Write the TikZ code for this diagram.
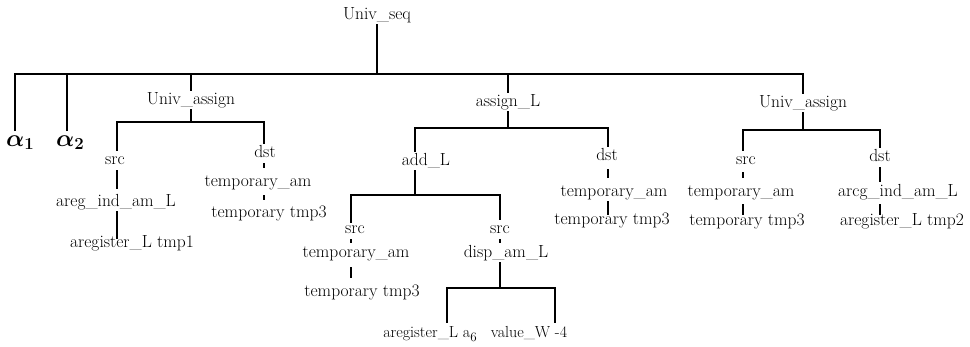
\RequirePackage{fix-cm}
\documentclass[tikz,border=0pt]{standalone}
\begin{document}
\begin{tikzpicture}[x=1pt,y=-1pt,
  lbl/.style={font=\fontsize{17.5}{20}\selectfont, inner sep=1pt, text height=12pt, text depth=4pt},
  alphalbl/.style={font=\fontsize{24}{26}\selectfont\boldmath, inner sep=1pt, anchor=north west},
  edge/.style={line width=2.8pt},
  every node/.style={lbl}]
\useasboundingbox (0,0) rectangle (970,346);

% top level
\node (seq) at (377,15) {Univ\_seq};
\coordinate (barL) at (15,74);
\coordinate (a2top) at (67,74);
\coordinate (barR) at (803,74);
\node[alphalbl] (a1) at (5,133) {$\alpha_1$};
\node[alphalbl] (a2) at (55,133) {$\alpha_2$};
\node (ua1) at (191,100) {Univ\_assign};
\node (al) at (508,102) {assign\_L};
\node (ua3) at (803,103) {Univ\_assign};

\draw[edge] (seq.south) -- (seq |- barL);
\draw[edge, shorten <=2pt] (a1.north -| barL) -- (barL) -- (barR) -- (ua3.north);
\draw[edge, shorten <=2pt] (a2.north -| a2top) -- (a2top);
\draw[edge] (ua1.north) -- (ua1 |- barL);
\draw[edge] (al.north) -- (al |- barL);

% left Univ_assign
\coordinate (j1l) at (117,122);
\coordinate (j1r) at (264,122);
\node (src1) at (115,160) {src};
\node (dst1) at (265,153) {dst};
\node (rg1) at (116,202) {areg\_ind\_am\_L};
\node (rt1) at (132,243) {aregister\_L tmp1};
\node (ta1) at (258,182) {temporary\_am};
\node (tt1) at (269,213) {temporary tmp3};
\draw[edge] (ua1.south) -- (ua1 |- j1l);
\draw[edge] (src1.north -| j1l) -- (j1l) -- (j1r) -- (dst1.north -| j1r);
\draw[edge, shorten <=1pt, shorten >=4pt] (src1.south -| j1l) -- (rg1.north -| j1l);
\draw[edge, shorten >=-5pt] (rg1.south -| j1l) -- (rt1.north -| j1l);
\draw[edge, shorten <=1pt, shorten >=5pt] (dst1.south -| j1r) -- (ta1.north -| j1r);
\draw[edge, shorten <=4pt, shorten >=4pt] (ta1.south -| j1r) -- (tt1.north -| j1r);

% assign_L
\coordinate (j2l) at (415,128);
\coordinate (j2r) at (608,128);
\node (add) at (426,161) {add\_L};
\node (dst2) at (607,156) {dst};
\node (ta2) at (614,192) {temporary\_am};
\node (tt2) at (612,220) {temporary tmp3};
\draw[edge] (al.south) -- (al |- j2l);
\draw[edge] (add.north -| j2l) -- (j2l) -- (j2r) -- (dst2.north -| j2r);
\draw[edge, shorten <=4pt, shorten >=5pt] (dst2.south -| j2r) -- (ta2.north -| j2r);
\draw[edge, shorten >=-4pt] (ta2.south -| j2r) -- (tt2.north -| j2r);

% add_L
\coordinate (j3l) at (351,195);
\coordinate (j3r) at (500,195);
\node (src3) at (355,229) {src};
\node (src4) at (500,229) {src};
\node (ta3) at (356,253) {temporary\_am};
\node (tt3) at (362,292) {temporary tmp3};
\node (disp) at (506,253) {disp\_am\_L};
\draw[edge] (add.south -| j2l) -- (j2l |- j3l);
\draw[edge, shorten <=-3pt] (src3.north -| j3l) -- (j3l) -- (j3r) -- (src4.north);
\draw[edge, shorten <=1pt, shorten >=1pt] (src3.south -| j3l) -- (ta3.north -| j3l);
\draw[edge, shorten <=5pt, shorten >=5pt] (ta3.south -| j3l) -- (tt3.north -| j3l);
\draw[edge, shorten <=1pt, shorten >=1pt] (src4.south) -- (disp.north -| src4);

% disp_am_L
\coordinate (j4l) at (447,288);
\coordinate (j4r) at (555,288);
\node[font=\fontsize{16}{18}\selectfont] (areg6) at (430,333) {aregister\_L a\raisebox{-4pt}{\fontsize{13}{14}\selectfont 6}};
\node[font=\fontsize{16}{18}\selectfont] (valw) at (529,333) {value\_W -4};
\draw[edge] (disp.south -| src4) -- (src4 |- j4l);
\draw[edge, shorten <=1pt, shorten >=1pt] (areg6.north -| j4l) -- (j4l) -- (j4r) -- (valw.north -| j4r);

% right Univ_assign
\coordinate (j5l) at (743,130);
\coordinate (j5r) at (880,130);
\node (src5) at (746,160) {src};
\node (dst5) at (880,157) {dst};
\node (ta5) at (741,192) {temporary\_am};
\node (tt5) at (747,221) {temporary tmp3};
\node (rg5) at (898,192) {arcg\_ind\_am\_L};
\node (rt5) at (902,221) {aregister\_L tmp2};
\draw[edge] (ua3.south) -- (ua3 |- j5l);
\draw[edge] (src5.north -| j5l) -- (j5l) -- (j5r) -- (dst5.north);
\draw[edge, shorten <=3pt, shorten >=5pt] (src5.south -| j5l) -- (ta5.north -| j5l);
\draw[edge, shorten <=3pt, shorten >=-3pt] (ta5.south -| j5l) -- (tt5.north -| j5l);
\draw[edge, shorten <=1pt, shorten >=1pt] (dst5.south) -- (rg5.north -| dst5);
\draw[edge, shorten <=3pt, shorten >=-3pt] (rg5.south -| dst5) -- (rt5.north -| dst5);
\end{tikzpicture}
\end{document}
